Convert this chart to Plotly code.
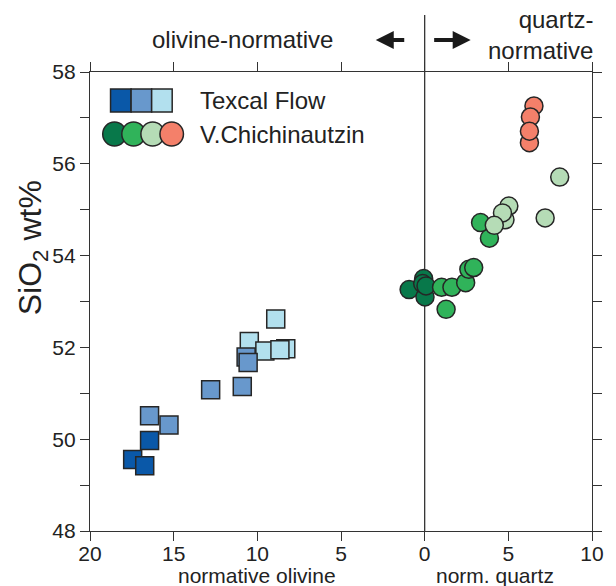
import plotly.graph_objects as go

# Normative index: negative = normative olivine, positive = normative quartz
texcal_dark_x = [-17.45, -16.73, -16.44]
texcal_dark_sio2 = [49.56, 49.42, 49.97]
texcal_mid_x = [-16.44, -15.28, -12.79, -10.90, -10.67, -10.55]
texcal_mid_sio2 = [50.51, 50.31, 51.08, 51.15, 51.79, 51.67]
texcal_light_x = [-8.90, -10.48, -9.55, -8.30, -8.65]
texcal_light_sio2 = [52.62, 52.13, 51.92, 51.97, 51.95]

chich_dark_x = [-0.93, -0.06, 0.02, -0.12, 0.08]
chich_dark_sio2 = [53.26, 53.50, 53.10, 53.39, 53.34]
chich_mid_x = [1.01, 1.63, 1.28, 2.45, 2.64, 2.93, 3.34, 3.87]
chich_mid_sio2 = [53.31, 53.31, 52.83, 53.41, 53.70, 53.74, 54.72, 54.38]
chich_light_x = [5.03, 4.80, 4.65, 4.16, 7.20, 8.07]
chich_light_sio2 = [55.08, 54.78, 54.93, 54.66, 54.82, 55.71]
chich_red_x = [6.53, 6.32, 6.26, 6.26]
chich_red_sio2 = [57.26, 57.02, 56.46, 56.71]

x_tickvals = [-20, -15, -10, -5, 0, 5, 10]
x_ticktext = ["20", "15", "10", "5", "0", "5", "10"]
y_tickvals = [48, 49, 50, 51, 52, 53, 54, 55, 56, 57, 58]
y_ticktext = ["48", "", "50", "", "52", "", "54", "", "56", "", "58"]

BLUES = ["#0a58a8", "#6898cc", "#b2e0ee"]
GREENS = ["#08784a", "#30b35a", "#b5dcb6", "#f4806a"]
EDGE = "#262626"
AXIS = "#333333"
FONT = "Liberation Sans, Arial, sans-serif"

W, H = 616, 586
L, R, T, B = 90, 13, 72, 55
PW, PH = W - L - R, H - T - B


def px(xp):
    return (xp - L) / PW


def py(yp):
    return (H - B - yp) / PH


fig = go.Figure()


def add_points(xs, ys, color, symbol):
    fig.add_trace(go.Scatter(
        x=xs, y=ys, mode="markers", showlegend=False, hoverinfo="skip",
        marker=dict(symbol=symbol, size=18, color=color,
                    line=dict(color=EDGE, width=1.5)),
    ))


add_points(texcal_light_x, texcal_light_sio2, BLUES[2], "square")
add_points(texcal_mid_x, texcal_mid_sio2, BLUES[1], "square")
add_points(texcal_dark_x, texcal_dark_sio2, BLUES[0], "square")
add_points(chich_dark_x, chich_dark_sio2, GREENS[0], "circle")
add_points(chich_mid_x, chich_mid_sio2, GREENS[1], "circle")
add_points(chich_light_x, chich_light_sio2, GREENS[2], "circle")
add_points(chich_red_x, chich_red_sio2, GREENS[3], "circle")

shapes = []
# divider between olivine- and quartz-normative fields
shapes.append(dict(type="line", xref="x", yref="paper", x0=0, x1=0,
                   y0=0, y1=py(15), line=dict(color=AXIS, width=1.3),
                   layer="below"))

# legend swatches
for i, c in enumerate(BLUES):
    x0 = 111 + i * 21
    shapes.append(dict(type="rect", xref="paper", yref="paper",
                       x0=px(x0), x1=px(x0 + 21), y0=py(112), y1=py(89),
                       fillcolor=c, line=dict(color=EDGE, width=1.5)))
for i, c in enumerate(GREENS):
    cx = 115 + i * 19.5
    shapes.append(dict(type="circle", xref="paper", yref="paper",
                       x0=px(cx - 12), x1=px(cx + 12), y0=py(146), y1=py(122),
                       fillcolor=c, line=dict(color=EDGE, width=1.5)))

ann = []
big = dict(family=FONT, size=24, color="#222")
mid = dict(family=FONT, size=21, color="#222")
ann.append(dict(text="Texcal Flow", x=px(200), y=py(100), xref="paper",
                yref="paper", xanchor="left", yanchor="middle",
                showarrow=False, font=big))
ann.append(dict(text="V.Chichinautzin", x=px(200), y=py(134), xref="paper",
                yref="paper", xanchor="left", yanchor="middle",
                showarrow=False, font=big))
ann.append(dict(text="olivine-normative", x=px(246), y=py(40), xref="paper",
                yref="paper", xanchor="center", yanchor="middle",
                showarrow=False, font=big))
ann.append(dict(text="quartz-<br>normative", x=px(606), y=py(35),
                xref="paper", yref="paper", xanchor="right",
                yanchor="middle", align="right", showarrow=False,
                font=big))
ann.append(dict(text="normative olivine", x=-10, y=py(575), xref="x",
                yref="paper", xanchor="center", yanchor="middle",
                showarrow=False, font=mid))
ann.append(dict(text="norm. quartz", x=4.2, y=py(575), xref="x",
                yref="paper", xanchor="center", yanchor="middle",
                showarrow=False, font=mid))
ann.append(dict(text="SiO<sub>2</sub> wt%", x=px(31), y=py(248),
                xref="paper", yref="paper", xanchor="center",
                yanchor="middle", textangle=-90, showarrow=False,
                font=dict(family=FONT, size=32, color="#222")))
# direction arrows
ann.append(dict(text="", x=px(382), y=py(40), xref="paper", yref="paper",
                ax=30, ay=0, showarrow=True, arrowhead=2, arrowsize=0.9,
                arrowwidth=4, arrowcolor="#1a1a1a"))
ann.append(dict(text="", x=px(479), y=py(40), xref="paper", yref="paper",
                ax=-38, ay=0, showarrow=True, arrowhead=2, arrowsize=0.9,
                arrowwidth=4, arrowcolor="#1a1a1a"))

axis_common = dict(showgrid=False, zeroline=False, showline=True,
                   linecolor=AXIS, linewidth=1.3, ticks="outside",
                   tickcolor=AXIS, tickwidth=1.3, ticklen=9,
                   mirror="ticks",
                   tickfont=dict(family=FONT, size=21, color="#222"))

fig.update_layout(
    width=W, height=H,
    margin=dict(l=L, r=R, t=T, b=B),
    paper_bgcolor="white", plot_bgcolor="white",
    xaxis=dict(range=[-20, 10], tickvals=x_tickvals, ticktext=x_ticktext,
               ticklabelstandoff=-5, **axis_common),
    yaxis=dict(range=[48, 58], tickvals=y_tickvals, ticktext=y_ticktext,
               **axis_common),
    shapes=shapes,
    annotations=ann,
    showlegend=False,
)

fig.write_html("out.html")
